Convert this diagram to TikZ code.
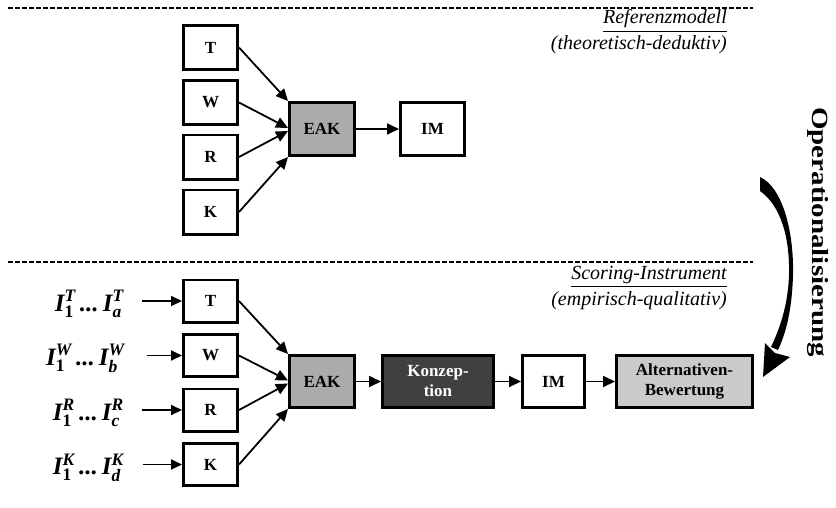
\documentclass[tikz,border=0pt]{standalone}
\usepackage{fontspec}
\usepackage{amsmath}
\setmainfont{Liberation Serif}
\usetikzlibrary{arrows.meta,calc}
\definecolor{eakgray}{HTML}{ABABAB}
\definecolor{kongray}{HTML}{404040}
\definecolor{altgray}{HTML}{CACACA}
\newcommand{\Ilab}[2]{\text{I}^{\text{#1}}_{\text{#2}}}
\begin{document}
\begin{tikzpicture}[x=1pt,y=-1pt,
  box/.style={draw=black,line width=2.9pt,inner sep=0pt,align=center,font=\bfseries\fontsize{17}{20}\selectfont},
  sqtop/.style={box,minimum width=54.1pt,minimum height=44.1pt},
  sqbot/.style={box,minimum width=54.1pt,minimum height=42.1pt},
  arr/.style={line width=1.8pt,-{Triangle[length=12pt,width=11pt]}},
  inarr/.style={line width=1.8pt,-{Triangle[length=11pt,width=10pt]}},
  sep/.style={line width=1.6pt,dash pattern=on 5pt off 2pt},
  itl/.style={font=\itshape\fontsize{20}{24}\selectfont,anchor=east,inner sep=0pt},
  lab/.style={font=\bfseries\itshape\fontsize{25}{26}\selectfont,anchor=east,inner sep=0pt}]
\useasboundingbox (0,0) rectangle (836,507);

% separators
\draw[sep] (8,8) -- (753,8);
\draw[sep] (8,262) -- (753,262);

% headings
\node[itl] (h1) at (727,21) {\underline{Referenzmodell}};
\node[itl] (h2) at (727,45) {(theoretisch-deduktiv)};
\node[itl] (h3) at (727,277) {\underline{Scoring-Instrument}};
\node[itl] (h4) at (727,301) {(empirisch-qualitativ)};

% top section
\node[sqtop] (tT) at (210.5,47.5) {T};
\node[sqtop] (tW) at (210.5,102.5) {W};
\node[sqtop] (tR) at (210.5,157) {R};
\node[sqtop] (tK) at (210.5,212) {K};
\node[box,fill=eakgray,minimum width=65.1pt,minimum height=53.1pt] (tEAK) at (322,129) {EAK};
\node[box,minimum width=64.1pt,minimum height=53.1pt] (tIM) at (432.5,129) {IM};
\draw[arr] (tT.east) -- (tEAK.north west);
\draw[arr] (tW.east) -- ($(tEAK.west)+(0,-1)$);
\draw[arr] (tR.east) -- ($(tEAK.west)+(0,2)$);
\draw[arr] (tK.east) -- (tEAK.south west);
\draw[arr] (tEAK.east) -- (tIM.west);

% bottom section
\node[sqbot] (bT) at (210.5,301) {T};
\node[sqbot] (bW) at (210.5,355.5) {W};
\node[sqbot] (bR) at (210.5,410) {R};
\node[sqbot] (bK) at (210.5,464.5) {K};
\node[box,fill=eakgray,minimum width=65.1pt,minimum height=52.1pt] (bEAK) at (322,381.5) {EAK};
\node[box,fill=kongray,text=white,minimum width=111.1pt,minimum height=52.1pt] (bKon) at (438,381.5) {Konzep-\\tion};
\node[box,minimum width=62.1pt,minimum height=52.1pt] (bIM) at (553.5,381.5) {IM};
\node[box,fill=altgray,minimum width=136.1pt,minimum height=52.1pt] (bAlt) at (684.5,381.5) {Alternativen-\\Bewertung};
\draw[arr] (bT.east) -- (bEAK.north west);
\draw[arr] (bW.east) -- ($(bEAK.west)+(0,-1)$);
\draw[arr] (bR.east) -- ($(bEAK.west)+(0,2)$);
\draw[arr] (bK.east) -- (bEAK.south west);
\draw[arr] (bEAK.east) -- (bKon.west);
\draw[arr] (bKon.east) -- (bIM.west);
\draw[arr] (bIM.east) -- (bAlt.west);

% indicator labels
\node[lab] (lT) at (124,304) {$\Ilab{T}{\upshape 1}\,\text{...}\,\Ilab{T}{a}$};
\node[lab] (lW) at (125,358.5) {$\Ilab{W}{\upshape 1}\,\text{...}\,\Ilab{W}{b}$};
\node[lab] (lR) at (124,413) {$\Ilab{R}{\upshape 1}\,\text{...}\,\Ilab{R}{c}$};
\node[lab] (lK) at (124,467.5) {$\Ilab{K}{\upshape 1}\,\text{...}\,\Ilab{K}{d}$};
\coordinate (sT) at (142,301);
\coordinate (sW) at (147,355.5);
\coordinate (sR) at (142,410);
\coordinate (sK) at (143,464.5);
\draw[inarr] (sT) -- (bT.west);
\draw[inarr] (sW) -- (bW.west);
\draw[inarr] (sR) -- (bR.west);
\draw[inarr] (sK) -- (bK.west);

% Operationalisierung arrow
\fill (760,177) .. controls (782,187) and (794,230) .. (793,275)
  .. controls (792,310) and (786,333) .. (778,350) -- (771,347)
  .. controls (780,328) and (788,305) .. (789,275)
  .. controls (790,236) and (780,205) .. (760,191) -- cycle;
\fill (763,377) -- (765,343) -- (775,353) -- (790,357) -- cycle;
\node[font=\bfseries\fontsize{29}{30}\selectfont,inner sep=0pt] (op) at (818,232)
  {\rotatebox{-90}{\scalebox{1}[0.8]{Operationalisierung}}};
\end{tikzpicture}
\end{document}
